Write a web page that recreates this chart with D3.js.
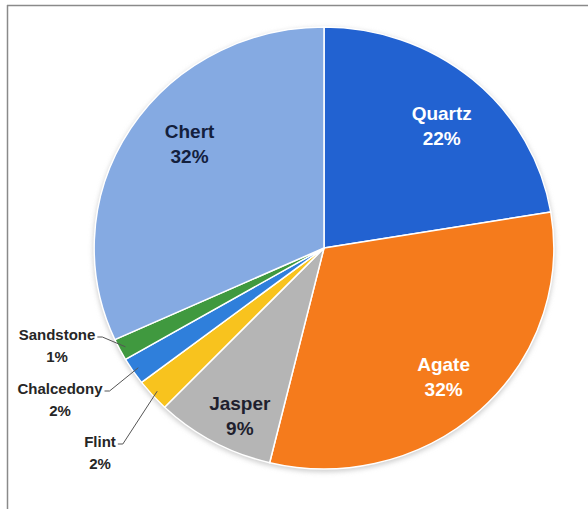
<!DOCTYPE html>
<meta charset="utf-8">
<style>
  body { margin: 0; background: #fff; }
  .lbl { font-family: "Liberation Sans", Arial, sans-serif; font-weight: bold; }
</style>
<svg width="588" height="509"></svg>
<script src="https://d3js.org/d3.v7.min.js"></script>
<script>
// Data
var categories = ["Quartz", "Agate", "Jasper", "Flint", "Chalcedony", "Sandstone", "Chert"];
var shares = [22.4, 31.4, 8.4, 2.4, 2.0, 1.6, 31.8];
var pctLabels = ["22%", "32%", "9%", "2%", "2%", "1%", "32%"];
var colors = ["#2262d1", "#f57b1c", "#b5b5b5", "#f8c31e", "#2f7fdb", "#40993f", "#85aae2"];
var labelColors = ["#ffffff", "#ffffff", "#1f1f2e", "#222", "#222", "#222", "#13203d"];
var outside = ["Sandstone", "Chalcedony", "Flint"];

var svg = d3.select("svg");

// frame lines (top + left)
svg.append("line").attr("x1", 7).attr("x2", 588).attr("y1", 5.5).attr("y2", 5.5)
    .attr("stroke", "#8a8a8a").attr("stroke-width", 1.5);
svg.append("line").attr("x1", 7.5).attr("x2", 7.5).attr("y1", 5).attr("y2", 509)
    .attr("stroke", "#8a8a8a").attr("stroke-width", 1.5);

var cx = 324, cy = 248, R = 221, sx = 1.04;

var rows = categories.map(function (c, i) { return { name: c, value: shares[i], i: i }; });

var pie = d3.pie().sort(null).value(function (d) { return d.value; });
var arcs = pie(rows);
var arc = d3.arc().innerRadius(0).outerRadius(R);

// soft shadow
var defs = svg.append("defs");
defs.append("filter").attr("id", "sh").attr("x", "-10%").attr("y", "-10%").attr("width", "120%").attr("height", "120%")
  .append("feGaussianBlur").attr("stdDeviation", 2.5);

var g = svg.append("g").attr("transform", "translate(" + cx + "," + cy + ") scale(" + sx + ",1)");
g.append("circle").attr("r", R + 1).attr("cy", 2).attr("fill", "#cfcfcf").attr("filter", "url(#sh)");

g.selectAll("path.slice")
  .data(arcs)
  .enter().append("path")
    .attr("class", "slice")
    .attr("d", arc)
    .attr("fill", function (d) { return colors[d.data.i]; })
    .attr("stroke", "#fff")
    .attr("stroke-width", 1.5)
    .attr("vector-effect", "non-scaling-stroke")
    .attr("stroke-linejoin", "round");

function pt(angle, r) {
  return [cx + sx * r * Math.sin(angle), cy - r * Math.cos(angle)];
}

// inside labels (small nudges like the hand-placed originals)
var nudge = { Quartz: [2, 9], Agate: [-2, 3], Jasper: [2, 17], Chert: [16, -11] };
var inner = arcs.filter(function (d) { return outside.indexOf(d.data.name) < 0; });
var lblR = 172;
inner.forEach(function (d) {
  var p = pt((d.startAngle + d.endAngle) / 2, lblR);
  var n = nudge[d.data.name];
  var x = p[0] + n[0], y = p[1] + n[1];
  var t = svg.append("text").attr("class", "lbl")
      .attr("text-anchor", "middle")
      .attr("font-size", 19)
      .attr("fill", labelColors[d.data.i]);
  t.append("tspan").attr("x", x).attr("y", y - 6).text(d.data.name);
  t.append("tspan").attr("x", x).attr("y", y + 19).text(pctLabels[d.data.i]);
});

// outside labels with leader lines (stacked on the left)
var outerLayout = { Sandstone: [57, 340], Chalcedony: [60, 394], Flint: [100, 447] };
arcs.filter(function (d) { return outside.indexOf(d.data.name) >= 0; }).forEach(function (d) {
  var pos = outerLayout[d.data.name];
  var t = svg.append("text").attr("class", "lbl")
      .attr("text-anchor", "middle")
      .attr("font-size", 15)
      .attr("fill", "#262626");
  t.append("tspan").attr("x", pos[0]).attr("y", pos[1]).text(d.data.name);
  t.append("tspan").attr("x", pos[0]).attr("y", pos[1] + 22).text(pctLabels[d.data.i]);
  var w = t.select("tspan").node().getComputedTextLength();
  var x0 = pos[0] + w / 2 + 2, y0 = pos[1] - 3;
  var end = pt((d.startAngle + d.endAngle) / 2, R - 6);
  svg.append("path")
    .attr("d", "M" + x0 + "," + y0 + "H" + (x0 + 5) + "L" + end[0] + "," + end[1])
    .attr("fill", "none").attr("stroke", "#555").attr("stroke-width", 1);
});
</script>
